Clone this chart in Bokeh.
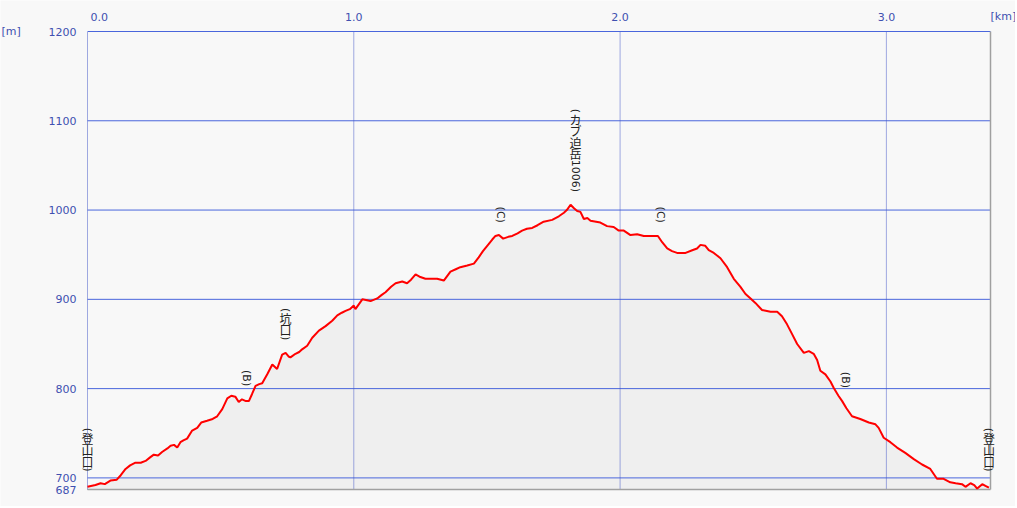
import math
from bokeh.plotting import figure
from bokeh.models import Range1d, Label
from bokeh.embed import file_html
from bokeh.resources import INLINE

# ---------------- data ----------------
dist_km = [0.000, 0.030, 0.049, 0.065, 0.086, 0.110, 0.125, 0.143, 0.160, 0.180,
           0.200, 0.218, 0.235, 0.249, 0.265, 0.280, 0.300, 0.312, 0.325, 0.337,
           0.349, 0.360, 0.374, 0.393, 0.412, 0.427, 0.449, 0.470, 0.487, 0.506,
           0.525, 0.540, 0.555, 0.568, 0.580, 0.595, 0.606, 0.618, 0.631, 0.645,
           0.656, 0.675, 0.694, 0.705, 0.712, 0.731, 0.744, 0.755, 0.762, 0.781,
           0.795, 0.806, 0.825, 0.844, 0.869, 0.894, 0.919, 0.938, 0.955, 0.969,
           0.985, 1.000, 1.006, 1.032, 1.050, 1.063, 1.088, 1.105, 1.119, 1.140,
           1.157, 1.182, 1.200, 1.215, 1.232, 1.250, 1.269, 1.295, 1.313, 1.338,
           1.363, 1.385, 1.400, 1.426, 1.451, 1.469, 1.485, 1.501, 1.520, 1.532,
           1.545, 1.561, 1.580, 1.595, 1.615, 1.632, 1.650, 1.670, 1.690, 1.713,
           1.745, 1.770, 1.789, 1.800, 1.814, 1.827, 1.839, 1.851, 1.864, 1.877,
           1.889, 1.910, 1.926, 1.951, 1.976, 1.995, 2.014, 2.039, 2.064, 2.089,
           2.115, 2.142, 2.158, 2.177, 2.195, 2.214, 2.246, 2.271, 2.289, 2.302,
           2.320, 2.333, 2.352, 2.377, 2.402, 2.427, 2.452, 2.471, 2.490, 2.508,
           2.533, 2.565, 2.590, 2.608, 2.627, 2.646, 2.665, 2.690, 2.709, 2.727,
           2.740, 2.752, 2.771, 2.790, 2.802, 2.820, 2.834, 2.850, 2.871, 2.902,
           2.934, 2.959, 2.971, 2.990, 3.015, 3.040, 3.071, 3.103, 3.134, 3.165,
           3.190, 3.215, 3.240, 3.260, 3.284, 3.297, 3.316, 3.330, 3.341, 3.360,
           3.372, 3.385]
elev_m = [690, 692, 694, 693, 697, 698, 703, 710, 714, 717,
          717, 719, 723, 726, 725, 729, 733, 736, 737, 734,
          740, 742, 744, 753, 756, 762, 764, 766, 769, 777,
          789, 792, 791, 785, 788, 786, 786, 794, 803, 805,
          806, 816, 827, 824, 822, 838, 840, 836, 835, 839,
          841, 844, 848, 857, 865, 870, 876, 882, 885, 887,
          889, 893, 889, 900, 899, 898, 901, 905, 908, 914,
          918, 920, 918, 922, 928, 925, 923, 923, 923, 921,
          931, 934, 936, 938, 940, 947, 954, 960, 967, 971,
          972, 968, 970, 971, 974, 977, 979, 980, 983, 987,
          989, 993, 997, 1000, 1006, 1002, 999, 998, 990, 991,
          988, 987, 986, 982, 981, 977, 977, 972, 973, 971,
          971, 971, 964, 957, 954, 952, 952, 955, 957, 961,
          960, 955, 952, 946, 936, 923, 914, 906, 901, 896,
          888, 886, 886, 881, 872, 861, 850, 840, 842, 839,
          832, 820, 816, 808, 801, 792, 786, 778, 769, 766,
          762, 760, 756, 745, 740, 734, 728, 721, 715, 710,
          699, 699, 695, 694, 693, 690, 694, 692, 688, 693,
          691, 689]

total_km = 3.391
y_ticks = [687, 700, 800, 900, 1000, 1100, 1200]
y_tick_labels = ["687", "700", "800", "900", "1000", "1100", "1200"]
grid_m = [700, 800, 900, 1000, 1100, 1200]
x_ticks = [0, 1, 2, 3]
x_tick_labels = ["0.0", "1.0", "2.0", "3.0"]

wp_names = ["(登山口)", "(B)", "(坑口)", "(C)", "(カブ迫岳1006)", "(C)", "(B)", "(登山口)"]
wp_km = [0.0, 0.597, 0.744, 1.551, 1.833, 2.152, 2.846, 3.385]
wp_elev = [691, 786, 838, 969, 1004, 969, 784, 691]

# ---------------- layout (pixels) ----------------
W, H = 1015, 506
ML, MT = 87, 31                    # plot-box left / top inside the canvas
MR, MB = W - 990, H - 489          # plot-box right / bottom margins
y_lo, y_hi = y_ticks[0], y_ticks[-1]
kx = (W - ML - MR) / total_km             # px per km
ky = (H - MT - MB) / (y_hi - y_lo)        # px per m
x_range = Range1d(-ML / kx, total_km + MR / kx)
y_range = Range1d(y_lo - MB / ky, y_hi + MT / ky)

BG = "#f8f8f8"
BLUE_TXT = "#4050b0"
FONT = "DejaVu Sans"

p = figure(width=W, height=H, output_backend="svg", toolbar_location=None,
           x_range=x_range, y_range=y_range,
           x_axis_location=None, y_axis_location=None,
           min_border=0)
p.background_fill_color = BG
p.border_fill_color = BG
p.outline_line_color = None
p.grid.grid_line_color = None

# area under profile
p.varea(x=dist_km, y1=y_lo, y2=elev_m, fill_color="#efefef")

# horizontal grid (solid blue)
p.segment(x0=[0] * len(grid_m), x1=[total_km] * len(grid_m),
          y0=grid_m, y1=grid_m, line_color="#4a66dc", line_width=1)
# vertical grid (dotted blue), incl. left border
p.segment(x0=x_ticks, x1=x_ticks, y0=[y_lo] * len(x_ticks),
          y1=[y_hi] * len(x_ticks), line_color="#4458c8", line_width=1,
          line_dash="1 1")
# right and bottom borders (grey)
p.segment(x0=[total_km, 0], x1=[total_km, total_km], y0=[y_lo, y_lo],
          y1=[y_hi, y_lo], line_color="#a0a0a0", line_width=1.5)

# profile line
p.line(dist_km, elev_m, line_color="#ff0000", line_width=2)

# tick labels
for v, t in zip(y_ticks, y_tick_labels):
    p.add_layout(Label(x=0, y=v, x_offset=-11, text=t, text_align="right",
                       text_baseline="middle", text_color=BLUE_TXT,
                       text_font=FONT, text_font_size="11px"))
for v, t in zip(x_ticks, x_tick_labels):
    first = v == x_ticks[0]
    p.add_layout(Label(x=v, y=y_hi, y_offset=15, x_offset=3 if first else 0,
                       text=t, text_align="left" if first else "center",
                       text_baseline="middle", text_color=BLUE_TXT,
                       text_font=FONT, text_font_size="11px"))

# units
p.add_layout(Label(x=x_range.start, y=y_hi, x_offset=1, text="[m]",
                   text_align="left", text_baseline="middle",
                   text_color=BLUE_TXT, text_font=FONT, text_font_size="11px"))
p.add_layout(Label(x=total_km, y=y_hi, y_offset=15, x_offset=0, text="[km]",
                   text_align="left", text_baseline="middle",
                   text_color=BLUE_TXT, text_font=FONT, text_font_size="11px"))

# vertical waypoint labels
def is_cjk(ch):
    return ord(ch) > 0x2E80

def ascii_w(ch):
    if ch in "()":
        return 5
    if ch.isdigit():
        return 7
    return 8

for name, xk, ye in zip(wp_names, wp_km, wp_elev):
    segs = []
    run = ""
    for ch in name:
        if is_cjk(ch):
            if run:
                segs.append((run, False))
                run = ""
            segs.append((ch, True))
        else:
            run += ch
    if run:
        segs.append((run, False))
    cum = 14
    for text, upright in reversed(segs):
        h = 11.5 if upright else sum(ascii_w(c) for c in text)
        p.add_layout(Label(x=xk, y=ye, y_offset=cum + h / 2, text=text,
                           angle=0 if upright else -math.pi / 2,
                           text_align="center", text_baseline="middle",
                           text_color="#222222",
                           text_font="Noto Sans CJK JP" if upright else FONT,
                           text_font_size="12px" if upright else "11px"))
        cum += h

open("out.html", "w").write(file_html(p, INLINE))
